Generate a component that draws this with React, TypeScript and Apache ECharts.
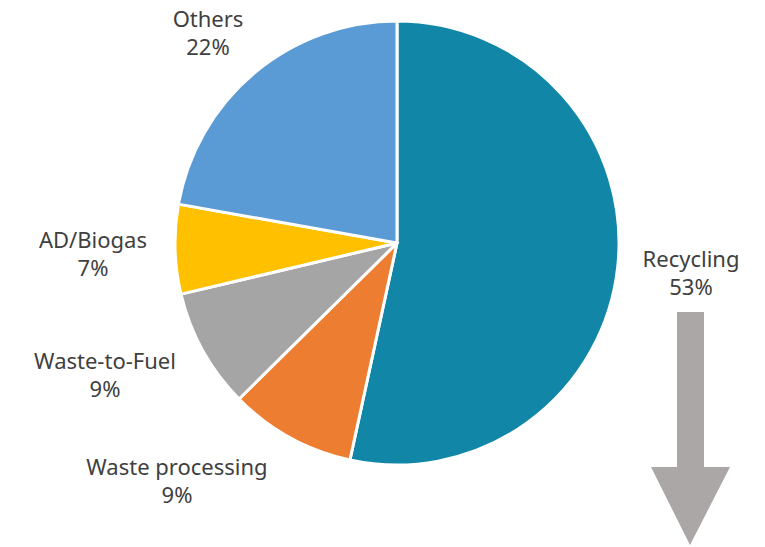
import React, { useEffect, useRef } from "react";
import * as echarts from "echarts";

const categories = ["Recycling", "Waste processing", "Waste-to-Fuel", "AD/Biogas", "Others"];
const values = [53.4, 9.2, 8.7, 6.5, 22.2];
const colors = ["#1186a7", "#ed7d31", "#a5a5a5", "#ffc000", "#5b9bd5"];
const labelPos: [number, number][] = [
  [691, 272],
  [177, 480],
  [105, 374],
  [93, 253],
  [208, 32],
];

export default function App() {
  const ref = useRef<HTMLDivElement>(null);
  useEffect(() => {
    if (!ref.current) return;
    const chart = echarts.init(ref.current, null, { renderer: "svg" });
    chart.setOption({
      animation: false,
      backgroundColor: "#ffffff",
      series: [
        {
          type: "pie",
          center: [397, 243],
          radius: 222,
          startAngle: 90,
          clockwise: true,
          data: categories.map((c, i) => ({
            name: c,
            value: values[i],
            itemStyle: { color: colors[i] },
          })),
          itemStyle: { borderColor: "#ffffff", borderWidth: 3 },
          label: {
            show: true,
            formatter: (p: any) => `${p.name}\n${Math.round(p.percent)}%`,
            fontFamily: "Noto Sans",
            fontSize: 22,
            lineHeight: 28,
            color: "#404040",
            align: "center",
            overflow: "none",
          },
          labelLine: { show: false },
          labelLayout: (params: any) => ({
            x: labelPos[params.dataIndex][0],
            y: labelPos[params.dataIndex][1],
            align: "center",
            verticalAlign: "middle",
          }),
        },
      ],
      graphic: [
        {
          type: "polygon",
          shape: {
            points: [
              [677, 312],
              [704, 312],
              [704, 467],
              [730, 467],
              [690, 545],
              [651, 467],
              [677, 467],
            ],
          },
          style: { fill: "#aba7a6" },
        },
      ],
    });
    return () => chart.dispose();
  }, []);
  return (
    <div
      ref={ref}
      style={{ position: "fixed", left: 0, top: 0, width: 765, height: 547 }}
    />
  );
}
